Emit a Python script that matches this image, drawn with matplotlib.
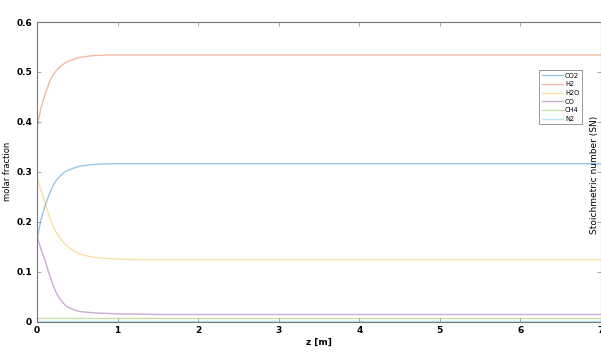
import numpy as np
import matplotlib.pyplot as plt

# axial position samples [m]
z = [0, 0.02, 0.05, 0.1, 0.16, 0.2, 0.24, 0.29, 0.33, 0.37, 0.45, 0.53, 0.66, 0.74, 0.9, 1.0, 1.2,
     1.5, 2, 3, 4, 5, 6, 7]

co2 = [0.16, 0.18, 0.205, 0.232, 0.258, 0.272, 0.283, 0.292, 0.298, 0.302, 0.307, 0.311, 0.314,
       0.315, 0.316, 0.316, 0.316, 0.316, 0.316, 0.316, 0.316, 0.316, 0.316, 0.316]
h2 = [0.385, 0.405, 0.428, 0.455, 0.482, 0.494, 0.503, 0.511, 0.516, 0.52, 0.525, 0.529, 0.532,
      0.533, 0.534, 0.534, 0.534, 0.534, 0.534, 0.534, 0.534, 0.534, 0.534, 0.534]
h2o = [0.29, 0.28, 0.262, 0.238, 0.207, 0.191, 0.178, 0.166, 0.158, 0.152, 0.142, 0.135, 0.13,
       0.128, 0.126, 0.125, 0.124, 0.124, 0.124, 0.124, 0.124, 0.124, 0.124, 0.124]
co = [0.17, 0.16, 0.145, 0.122, 0.091, 0.073, 0.057, 0.044, 0.036, 0.03, 0.024, 0.02, 0.018,
      0.017, 0.016, 0.015, 0.015, 0.014, 0.014, 0.014, 0.014, 0.014, 0.014, 0.014]
ch4 = [0.008] * len(z)
n2 = [0.0008] * len(z)

series = [("CO2", co2, (0.0, 0.447, 0.741)),
          ("H2", h2, (0.85, 0.325, 0.098)),
          ("H2O", h2o, (0.929, 0.694, 0.125)),
          ("CO", co, (0.494, 0.184, 0.556)),
          ("CH4", ch4, (0.466, 0.674, 0.188)),
          ("N2", n2, (0.301, 0.745, 0.933))]

fig = plt.figure(figsize=(6.01, 3.53), dpi=100)
ax = fig.add_axes([37 / 601, 31.5 / 353, 564 / 601, 299.5 / 353])

for name, vals, col in series:
    ax.plot(z, vals, color=col, alpha=0.4, linewidth=1.0, label=name)

ax.set_xlim(0, 7)
ax.set_ylim(0, 0.6)
ax.set_xticks(range(0, 8))
ax.set_yticks([0, 0.1, 0.2, 0.3, 0.4, 0.5, 0.6])
ax.set_yticklabels(["0", "0.1", "0.2", "0.3", "0.4", "0.5", "0.6"])
ax.tick_params(direction="in", length=3, labelsize=6.5, top=True, right=True, width=0.6,
               colors="#999999", labelcolor="black")
for lab in ax.get_xticklabels() + ax.get_yticklabels():
    lab.set_fontweight("bold")
for s in ax.spines.values():
    s.set_color("#777777")
    s.set_linewidth(0.8)

ax.set_xlabel("z [m]", fontsize=6.5, fontweight="bold", labelpad=2)
ax.set_ylabel("molar fraction", fontsize=6, labelpad=3)
fig.text(595 / 601, 1 - 175 / 353, "Stoichmetric number (SN)", rotation=90, fontsize=6.5,
         ha="center", va="center")

leg = ax.legend(loc="upper left", bbox_to_anchor=(499 / 564, 1 - 45 / 299.5), fontsize=4.8,
                handlelength=3.2, labelspacing=0.4, borderpad=0.35, handletextpad=0.3,
                fancybox=False, framealpha=1, edgecolor="#888888")
leg.get_frame().set_linewidth(0.6)

fig.savefig("out.png", dpi=100)
